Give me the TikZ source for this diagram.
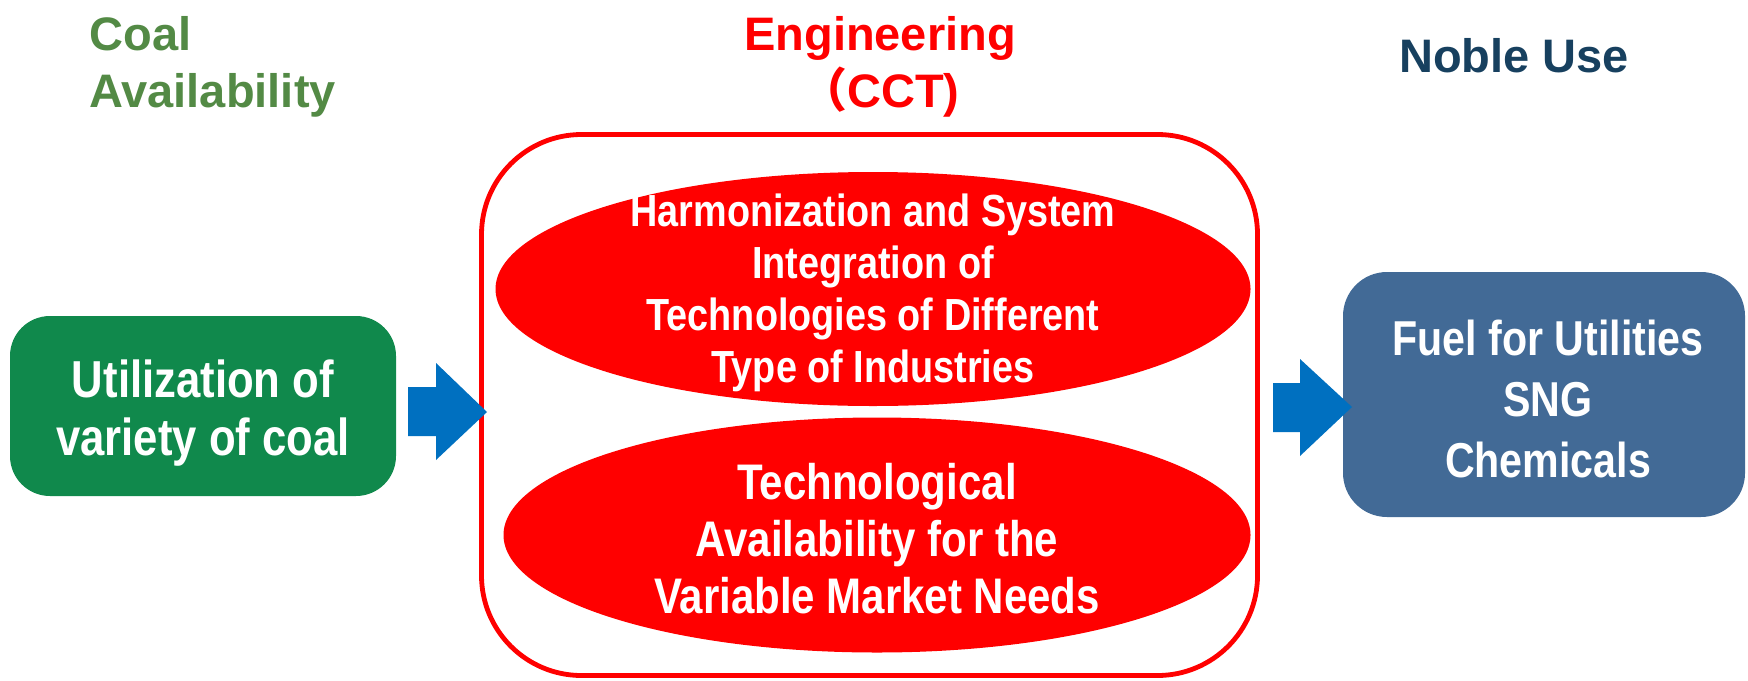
\documentclass[tikz,border=0pt]{standalone}
\usepackage{fontspec}
\setmainfont{Liberation Sans}
\newfontfamily\cond[FakeStretch=0.84]{Liberation Sans Bold}
\newfontfamily\titlefont{Liberation Sans Bold}
\newfontfamily\cjk{Noto Sans CJK JP}
\usetikzlibrary{shapes.geometric}
\definecolor{titlegreen}{HTML}{538A45}
\definecolor{boxgreen}{HTML}{10894C}
\definecolor{arrowblue}{HTML}{0070C0}
\definecolor{boxblue}{HTML}{426A96}
\definecolor{nobleblue}{HTML}{17405F}
\definecolor{pptred}{HTML}{FF0000}
\tikzset{
  ttl/.style={anchor=base west, inner sep=0, font=\titlefont\fontsize{23.5}{28.5}\selectfont},
  ttlc/.style={anchor=base, inner sep=0, font=\titlefont\fontsize{23.5}{28.5}\selectfont},
  oval/.style={ellipse, fill=pptred, inner sep=0},
  ovaltext/.style={inner sep=0, text=white, align=center},
  rbox/.style={rectangle, inner sep=0, text=white, align=center},
  boxtext/.style={inner sep=0, text=white, align=center},
  blockarrow/.style={fill=arrowblue}
}
\begin{document}
\begin{tikzpicture}[x=0.5pt,y=-0.5pt]
\useasboundingbox (0,0) rectangle (1748,680);
% titles
\node[ttl, text=titlegreen] (coal1) at (89,50) {Coal};
\node[ttl, text=titlegreen] (coal2) at (89,107) {Availability};
\node[ttlc, text=pptred] (eng1) at (880,50) {Engineering};
\node[ttlc, text=pptred] (eng2) at (880,107) {{\cjk\bfseries （}CCT)};
\node[ttlc, text=nobleblue] (noble) at (1514,72) {Noble Use};
% engineering frame
\node[draw=pptred, line width=2.4pt, rounded corners=50pt, minimum width=388pt, minimum height=270.5pt, inner sep=0] (frame) at (869.5,405) {};
% ellipses
\node[oval, minimum width=377.5pt, minimum height=117pt] (e1) at (873,289) {};
\node[ovaltext, font=\cond\fontsize{22.5}{26}\selectfont] (e1t) at (873,293)
  {Harmonization and System\\Integration of\\Technologies of Different\\Type of Industries};
\node[oval, minimum width=373.5pt, minimum height=117.5pt] (e2) at (877,535) {};
\node[ovaltext, font=\cond\fontsize{25}{28.5}\selectfont] (e2t) at (877,539)
  {Technological\\Availability for the\\Variable Market Needs};
% side boxes
\node[rbox, fill=boxgreen, rounded corners=20pt, minimum width=193pt, minimum height=90pt] (coal) at (203,406) {};
\node[boxtext, font=\cond\fontsize{26}{29}\selectfont] (coalt) at (203,413)
  {Utilization of\\variety of coal};
\node[rbox, fill=boxblue, rounded corners=22pt, minimum width=201pt, minimum height=122.5pt] (use) at (1544,394.5) {};
\node[boxtext, font=\cond\fontsize{24.5}{30.5}\selectfont] (uset) at (1548,399)
  {Fuel for Utilities\\SNG\\Chemicals};
% block arrows
\coordinate (a1tip) at (487,412);
\coordinate (a2tip) at (1352,407);
\fill[blockarrow] (a1tip) -- ++(-51,-49) -- ++(0,24) -- ++(-28,0) -- ++(0,49) -- ++(28,0) -- ++(0,24) -- cycle;
\fill[blockarrow] (a2tip) -- ++(-52,-48) -- ++(0,24) -- ++(-27,0) -- ++(0,49) -- ++(27,0) -- ++(0,24) -- cycle;
\end{tikzpicture}
\end{document}
